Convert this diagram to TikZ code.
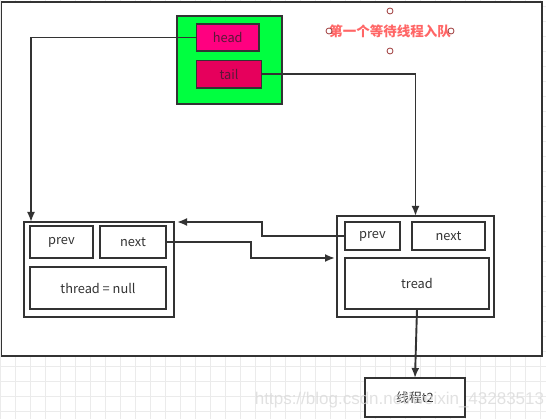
\documentclass[tikz,border=0pt]{standalone}
\usepackage{fontspec}
\setmainfont{Noto Sans CJK SC}
\newfontfamily\markfont{Liberation Sans}
\usetikzlibrary{arrows.meta,positioning,calc}
\definecolor{ink}{HTML}{333333}
\definecolor{gridgray}{HTML}{EBEBEB}
\definecolor{queuegreen}{HTML}{00FF40}
\definecolor{headpink}{HTML}{FF0080}
\definecolor{tailpink}{HTML}{E6005C}
\definecolor{darkword}{HTML}{5A1838}
\definecolor{notered}{HTML}{FF6666}
\definecolor{handlered}{HTML}{9E3A3A}
\definecolor{markgray}{HTML}{DADADA}
\tikzset{
  box/.style={draw=ink, line width=1.9pt, inner sep=0pt, outer sep=0pt, text=ink,
    font=\fontsize{12.8}{15}\selectfont},
  arr/.style={draw=ink, line width=1.9pt, -{Latex[length=10pt,width=8pt]}},
  gridline/.style={draw=gridgray, line width=0.8pt},
  handle/.style={draw=handlered, line width=0.8pt, fill=white},
}

\begin{document}
\begin{tikzpicture}[x=1pt,y=-1pt]
\useasboundingbox (0,0) rectangle (546,419);
\foreach \i in {0,...,36} \draw[gridline] (\i*15+0.5,0) -- (\i*15+0.5,419);
\foreach \j in {0,...,27} \draw[gridline] (0,\j*15+6.7) -- (546,\j*15+6.7);

\node[box, fill=white, minimum width=540.5pt, minimum height=354pt] (frame) at (271.75,179) {};

\node[box, fill=queuegreen, minimum width=105pt, minimum height=88pt] (queue) at (229.5,60) {};
\node[box, fill=headpink, text=darkword, minimum width=62.5pt, minimum height=27pt,
  below right=8pt and 19.5pt of queue.north west] (head) {head};
\node[box, fill=tailpink, text=darkword, minimum width=65pt, minimum height=27.5pt,
  below right=9.5pt and 0pt of head.south west] (tail) {tail};

\node[text=notered, font=\bfseries\fontsize{13.5}{15}\selectfont] (note) at (390,31) {第一个等待线程入队};
\foreach \p in {(390,11),(329,31),(451,31),(390,51)} \draw[handle] \p circle[radius=3pt];

\node[box, minimum width=150pt, minimum height=95pt] (L) at (99,269.5) {};
\node[box, minimum width=63pt, minimum height=32pt,
  below right=4pt and 6pt of L.north west] (Lprev) {prev};
\node[box, minimum width=66pt, minimum height=32pt, right=7pt of Lprev] (Lnext) {next};
\node[box, minimum width=136pt, minimum height=42pt,
  below right=9pt and 0pt of Lprev.south west] (Lthread) {thread = null};

\node[box, minimum width=157pt, minimum height=101pt] (R) at (415.5,266.5) {};
\node[box, minimum width=55pt, minimum height=28pt,
  below right=6pt and 8pt of R.north west] (Rprev) {prev};
\node[box, minimum width=73pt, minimum height=28pt, right=12pt of Rprev] (Rnext) {next};
\node[box, minimum width=144pt, minimum height=51pt,
  below right=8pt and 0pt of Rprev.south west] (Rtread) {tread};

\node[box, fill=white, minimum width=100pt, minimum height=39pt] (t2) at (415,397.5) {线程t2};

\draw[arr] (head.west) -| ([xshift=7pt]L.north west);
\draw[arr] (tail.east) -| (R.north);
\draw[arr] (Rprev.west) -- ++(-83,0) |- ([xshift=3pt]L.north east);
\draw[arr] (Lnext.east) -- ++(85,0) |- ([xshift=-2pt]R.west |- Rtread.north);
\draw[arr] (Rtread.south) -- (t2.north);

\node[text=markgray, opacity=0.8, font=\markfont\fontsize{17}{20}\selectfont] (mark) at (399.5,400) {https://blog.csdn.net/weixin\_43283513};
\end{tikzpicture}
\end{document}
